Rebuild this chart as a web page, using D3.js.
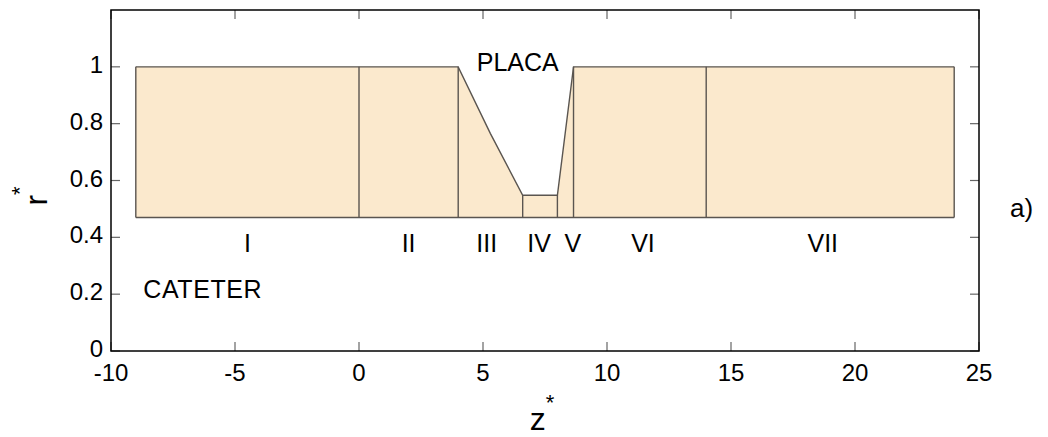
<!DOCTYPE html>
<html>
<head>
<meta charset="utf-8">
<script src="https://cdn.jsdelivr.net/npm/d3@7"></script>
<style>
  html, body { margin: 0; padding: 0; background: #fff; }
  svg { display: block; font-family: "Liberation Sans", Arial, sans-serif; }
</style>
</head>
<body>
<svg id="chart" width="1048" height="437"></svg>
<script>
// Axial coordinate z* and wall radius r* along the vessel (top of the annulus)
const wallZ = [-9, 0, 4, 5.3, 6.6, 8, 8.65, 14, 24];
const wallR = [1, 1, 1, 0.765, 0.548, 0.548, 1, 1, 1];
// Catheter radius (inner boundary of the annulus)
const catheterR = 0.47;
// Section boundaries along z*
const sectionZ = [-9, 0, 4, 6.6, 8, 8.65, 14, 24];
// Section names and label positions
const sectionNames = ["I", "II", "III", "IV", "V", "VI", "VII"];
const sectionLabelZ = [-4.5, 2, 5.15, 7.26, 8.62, 11.45, 18.7];
const sectionLabelR = 0.35;
// Axis ticks
const xTicks = [-10, -5, 0, 5, 10, 15, 20, 25];
const yTicks = [0, 0.2, 0.4, 0.6, 0.8, 1];

const svg = d3.select("#chart");
const L = 111, R = 979, T = 10, B = 351;

const x = d3.scaleLinear().domain([-10, 25]).range([L, R]);
const y = d3.scaleLinear().domain([0, 1.2]).range([B, T]);

const wall = wallZ.map((z, i) => ({ z, r: wallR[i] }));
const wallAt = z => {
  for (let i = 0; i < wall.length - 1; i++) {
    const a = wall[i], b = wall[i + 1];
    if (z >= a.z && z <= b.z) return a.r + (b.r - a.r) * (z - a.z) / (b.z - a.z);
  }
  return wall[wall.length - 1].r;
};

const fillColor = "#fbe9cd";
const edgeColor = "#5a5550";

// Annulus between catheter and vessel wall
svg.append("path")
  .datum(wall)
  .attr("d", d3.area().x(d => x(d.z)).y0(y(catheterR)).y1(d => y(d.r)))
  .attr("fill", fillColor)
  .attr("stroke", "none");

// Wall profile
svg.append("path")
  .datum(wall)
  .attr("d", d3.line().x(d => x(d.z)).y(d => y(d.r)))
  .attr("fill", "none")
  .attr("stroke", edgeColor)
  .attr("stroke-width", 1.4);

// Catheter surface
svg.append("line")
  .attr("x1", x(sectionZ[0])).attr("x2", x(sectionZ[sectionZ.length - 1]))
  .attr("y1", y(catheterR)).attr("y2", y(catheterR))
  .attr("stroke", edgeColor).attr("stroke-width", 1.4);

// Section separators
svg.selectAll("line.sep")
  .data(sectionZ)
  .join("line")
  .attr("class", "sep")
  .attr("x1", d => x(d)).attr("x2", d => x(d))
  .attr("y1", y(catheterR)).attr("y2", d => y(wallAt(d)))
  .attr("stroke", edgeColor).attr("stroke-width", 1.4);

// Axes (ticks pointing inward, mirrored on all four sides)
const tickLen = 9;
const tickColor = "#666";
const axes = svg.append("g");
axes.selectAll("line.xb").data(xTicks).join("line")
  .attr("x1", d => x(d)).attr("x2", d => x(d))
  .attr("y1", B).attr("y2", B - tickLen)
  .attr("stroke", tickColor).attr("stroke-width", 1.2);
axes.selectAll("line.xt").data(xTicks).join("line")
  .attr("x1", d => x(d)).attr("x2", d => x(d))
  .attr("y1", T).attr("y2", T + tickLen)
  .attr("stroke", tickColor).attr("stroke-width", 1.2);
axes.selectAll("line.yl").data(yTicks).join("line")
  .attr("x1", L).attr("x2", L + tickLen)
  .attr("y1", d => y(d)).attr("y2", d => y(d))
  .attr("stroke", tickColor).attr("stroke-width", 1.2);
axes.selectAll("line.yr").data(yTicks).join("line")
  .attr("x1", R).attr("x2", R - tickLen)
  .attr("y1", d => y(d)).attr("y2", d => y(d))
  .attr("stroke", tickColor).attr("stroke-width", 1.2);

axes.append("rect")
  .attr("x", L).attr("y", T).attr("width", R - L).attr("height", B - T)
  .attr("fill", "none").attr("stroke", "#000").attr("stroke-width", 1.5);

// Tick labels (plain hyphen-minus for negatives)
axes.selectAll("text.xl").data(xTicks).join("text")
  .attr("x", d => x(d)).attr("y", B + 30)
  .attr("text-anchor", "middle")
  .attr("font-size", 24)
  .text(d => String(d));
axes.selectAll("text.yl").data(yTicks).join("text")
  .attr("x", L - 8).attr("y", d => y(d) + 6)
  .attr("text-anchor", "end")
  .attr("font-size", 24)
  .text(d => d === 0 || d === 1 ? String(d) : d.toFixed(1));

// Axis titles
const xt = svg.append("text")
  .attr("x", 542).attr("y", 430)
  .attr("text-anchor", "middle")
  .attr("font-size", 32);
xt.append("tspan").text("z");
xt.append("tspan").attr("dy", -20).attr("font-size", 22).text("*");

const yt = svg.append("text")
  .attr("transform", "translate(47,196) rotate(-90)")
  .attr("text-anchor", "middle")
  .attr("font-size", 32);
yt.append("tspan").text("r");
yt.append("tspan").attr("dy", -20).attr("font-size", 22).text("*");

// Section labels
svg.selectAll("text.sec").data(sectionNames).join("text")
  .attr("class", "sec")
  .attr("x", (d, i) => x(sectionLabelZ[i]))
  .attr("y", y(sectionLabelR))
  .attr("text-anchor", "middle")
  .attr("font-size", 25)
  .text(d => d);

// Annotations
svg.append("text")
  .attr("x", x(6.4)).attr("y", y(0.984))
  .attr("text-anchor", "middle")
  .attr("font-size", 25)
  .text("PLACA");
svg.append("text")
  .attr("x", x(-8.7)).attr("y", y(0.187))
  .attr("text-anchor", "start")
  .attr("font-size", 25)
  .attr("letter-spacing", 0.6)
  .text("CATETER");
svg.append("text")
  .attr("x", 1010).attr("y", 217)
  .attr("font-size", 26)
  .text("a)");
</script>
</body>
</html>
